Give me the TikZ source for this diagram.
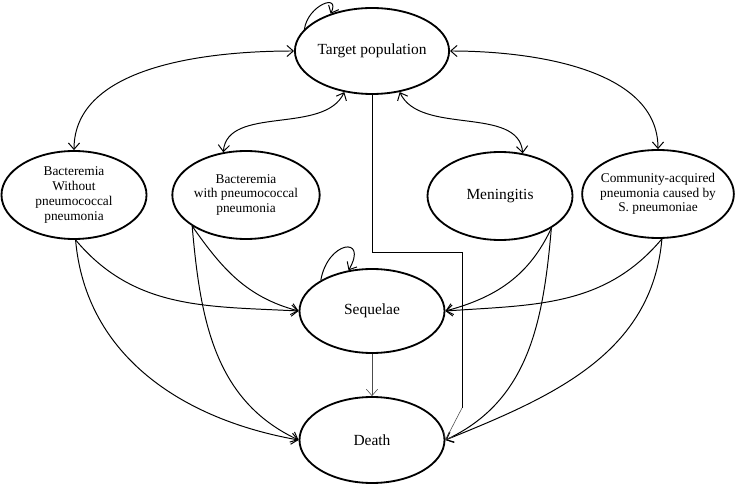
\documentclass[tikz,border=0pt]{standalone}
\usepackage{fontspec}
\setmainfont{Liberation Serif}
\usetikzlibrary{arrows.meta, shapes.geometric}

\begin{document}
\begin{tikzpicture}[>={Straight Barb[length=1.6mm, width=2.8mm]}, line width=0.7pt,
    state/.style={draw, ellipse, line width=1.3pt, inner sep=0pt, align=center, minimum width=3.625cm, minimum height=2.2cm, font=\fontsize{11}{13}\selectfont},
    disease/.style={state, font=\fontsize{9.5}{10.5}\selectfont},
    thin arrow/.style={->, line width=0.4pt, black!70}]
  \useasboundingbox (0,0) rectangle (18.65,12.15);
  \node[state, minimum height=2.15cm] (target) at (9.30,10.875) {Target population};
  \node[disease] (bwo) at (1.85,7.275) {Bacteremia\\Without\\pneumococcal\\pneumonia};
  \node[disease] (bwp) at (6.15,7.275) {Bacteremia\\with pneumococcal\\pneumonia};
  \node[state] (men) at (12.50,7.25) {Meningitis};
  \node[disease, minimum width=3.725cm, inner xsep=-3pt] (cap) at (16.45,7.30) {Community-acquired\\pneumonia caused by\\S. pneumoniae};
  \node[state, minimum height=2.1cm] (seq) at (9.30,4.375) {Sequelae};
  \node[state, minimum height=2.15cm] (death) at (9.30,1.15) {Death};
  \coordinate (tp1) at (11.55,5.85);
  \coordinate (tp2) at (11.55,1.95);
  % self loops
  \draw[->] (target.162) to[out=82, in=65, looseness=2] (target.138);
  \draw[->] (seq.149) to[out=80, in=60, looseness=3.5] (seq.120);
  % target <-> diseases
  \draw[<->] (bwo.north) to[out=90, in=180, looseness=0.9] (target.west);
  \draw[<->] (bwp.118) to[out=85, in=-115, looseness=0.9] (target.236);
  \draw[<->] (men.62) to[out=95, in=-65, looseness=0.9] (target.-56);
  \draw[<->] (cap.north) to[out=90, in=0, looseness=0.9] (target.east);
  % diseases -> sequelae / death
  \draw[->] (bwo.-88) to[out=-50, in=177] (seq.west);
  \draw[->] (bwo.-88) to[out=-85, in=170] (death.west);
  \draw[->] (bwp.-150) to[out=-55, in=165] (seq.west);
  \draw[->] (bwp.-150) to[out=-85, in=155] (death.west);
  \draw[->] (men.-32) to[out=-115, in=15] (seq.east);
  \draw[->] (men.-32) to[out=-95, in=25] (death.east);
  \draw[->] (cap.-85) to[out=-130, in=4] (seq.east);
  \draw[->] (cap.-85) to[out=-95, in=22] (death.east);
  % sequelae -> death, target -> death
  \draw[thin arrow] (seq.south) -- (death.north);
  \draw[line width=0.6pt] (target.south) |- (tp1) -- (tp2);
  \draw[thin arrow] (tp2) -- (death.east);
\end{tikzpicture}
\end{document}
